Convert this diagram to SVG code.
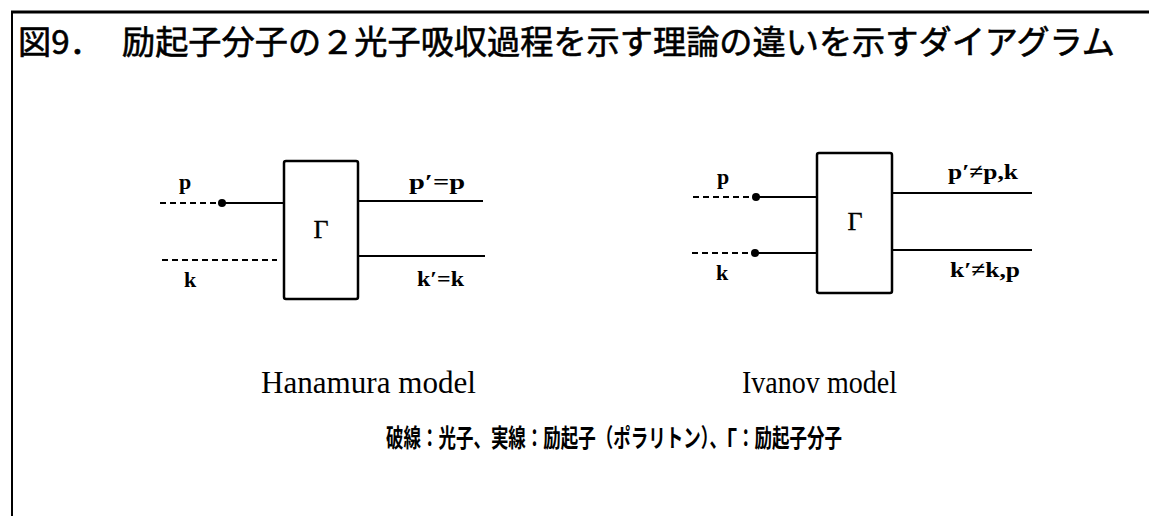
<svg xmlns="http://www.w3.org/2000/svg" width="1149" height="516" viewBox="0 0 1149 516">
<style>
.ln{stroke:#000;stroke-width:2;fill:none}
.ds{stroke:#000;stroke-width:2;fill:none;stroke-dasharray:6 4}
.box{stroke:#000;stroke-width:2.5;fill:#fff}
.lbl{font-family:"Liberation Serif",serif;font-weight:bold;font-size:22px;fill:#000}
.gam{font-family:"Liberation Serif",serif;font-size:26px;fill:#000;stroke:#000;stroke-width:0.4}
.jp{font-family:"Noto Sans CJK JP",sans-serif;fill:#000}
.ttl{font-size:33.2px;stroke:#000;stroke-width:0.6}
.mdl{font-family:"Liberation Serif",serif;font-size:31px;fill:#000}
</style>
<rect width="1149" height="516" fill="#fff"/>
<g id="frame">
<line x1="11" y1="12" x2="1149" y2="12" stroke="#000" stroke-width="3"/>
<line x1="12" y1="11" x2="12" y2="516" stroke="#000" stroke-width="2"/>
</g>
<g id="title">
<text class="jp ttl" x="18" y="54">図9．</text>
<text class="jp ttl" x="122" y="54">励起子分子の２光子吸収過程を示す理論の違いを示すダイアグラム</text>
</g>
<g id="connectors">
<line class="ds" x1="160" y1="203" x2="222" y2="203"/>
<line class="ln" x1="222" y1="203" x2="284" y2="203"/>
<line class="ln" x1="358" y1="201" x2="483" y2="201"/>
<line class="ds" x1="162" y1="260" x2="277" y2="260"/>
<line class="ln" x1="358" y1="256" x2="485" y2="256"/>
<line class="ds" x1="693" y1="197" x2="756" y2="197"/>
<line class="ln" x1="756" y1="197" x2="817" y2="197"/>
<line class="ln" x1="892" y1="193" x2="1032" y2="193"/>
<line class="ds" x1="692" y1="253" x2="755" y2="253"/>
<line class="ln" x1="755" y1="253" x2="817" y2="253"/>
<line class="ln" x1="892" y1="250" x2="1032" y2="250"/>
<circle cx="222" cy="203" r="4"/>
<circle cx="756" cy="197" r="4"/>
<circle cx="755" cy="253" r="4"/>
</g>
<g id="hanamura">
<rect class="box" x="284" y="161" width="74" height="138" rx="2"/>
<text class="gam" x="321" y="238" text-anchor="middle">Γ</text>
<text class="lbl" x="179" y="189">p</text>
<text class="lbl" x="409" y="189" textLength="56" lengthAdjust="spacingAndGlyphs">p′=p</text>
<text class="lbl" x="184" y="287">k</text>
<text class="lbl" x="417" y="286" textLength="47" lengthAdjust="spacingAndGlyphs">k′=k</text>
<text class="mdl" x="261" y="393" textLength="215" lengthAdjust="spacingAndGlyphs">Hanamura model</text>
</g>
<g id="ivanov">
<rect class="box" x="817" y="153" width="75" height="140" rx="2"/>
<text class="gam" x="855" y="230" text-anchor="middle">Γ</text>
<text class="lbl" x="717" y="184">p</text>
<text class="lbl" x="948" y="179" textLength="70" lengthAdjust="spacingAndGlyphs">p′≠p,k</text>
<text class="lbl" x="716" y="280">k</text>
<text class="lbl" x="950" y="277" textLength="70" lengthAdjust="spacingAndGlyphs">k′≠k,p</text>
<text class="mdl" x="742" y="393" textLength="155" lengthAdjust="spacingAndGlyphs">Ivanov model</text>
</g>
<g id="caption">
<text class="jp" x="386" y="447" font-size="25" font-weight="bold" textLength="456" lengthAdjust="spacingAndGlyphs">破線：光子、実線：励起子（ポラリトン）、Γ：励起子分子</text>
</g>
</svg>
